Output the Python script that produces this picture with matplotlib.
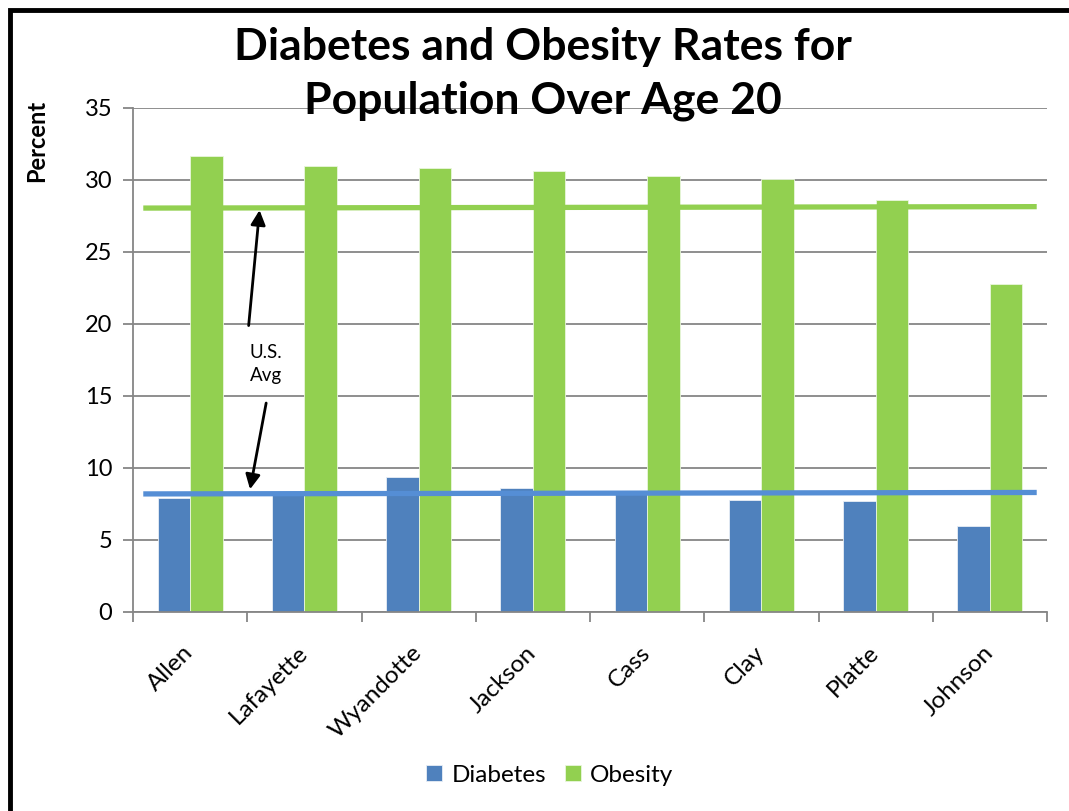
import matplotlib
matplotlib.use("Agg")
import matplotlib.pyplot as plt
import numpy as np
from matplotlib.patches import Rectangle

plt.rcParams['font.family'] = ['Lato', 'DejaVu Sans']

counties = ["Allen", "Lafayette", "Wyandotte", "Jackson", "Cass", "Clay", "Platte", "Johnson"]
diabetes = [7.9, 8.3, 9.4, 8.6, 8.3, 7.8, 7.7, 6.0]
obesity = [31.7, 31.0, 30.8, 30.6, 30.3, 30.1, 28.6, 22.8]
us_avg_obesity = [28.05, 28.15]
us_avg_diabetes = [8.2, 8.3]
yticks = [0, 5, 10, 15, 20, 25, 30, 35]

BLUE = "#4F81BD"
GREEN = "#92D050"
LINE_BLUE = "#558ED5"
GRID = "#868686"

fig = plt.figure(figsize=(10.69, 8.11), dpi=100)
ax = fig.add_axes([133/1069, 1-612/811, (1047-133)/1069, (612-108)/811])

x = np.arange(len(counties))
w = 0.285
ax.bar(x - w/2, diabetes, w, color=BLUE, edgecolor="#E8EEF6", linewidth=0.6, label="Diabetes", zorder=2)
ax.bar(x + w/2, obesity, w, color=GREEN, edgecolor="#E9F6DC", linewidth=0.6, label="Obesity", zorder=2)

lx = [-0.41, len(counties) - 0.59]
ax.plot(lx, us_avg_obesity, color=GREEN, lw=3.8, solid_capstyle="butt", zorder=3)
ax.plot(lx, us_avg_diabetes, color=LINE_BLUE, lw=3.8, solid_capstyle="butt", zorder=3)

ax.set_xlim(-0.5, len(counties) - 0.5)
ax.set_ylim(0, 35)
ax.set_yticks(yticks)
ax.yaxis.grid(True, color=GRID, lw=1.3, zorder=0)
ax.set_axisbelow(True)
ax.set_xticks(np.arange(len(counties) + 1) - 0.5, minor=False)
ax.set_xticklabels([])
ax.set_xticks(x, minor=True)
ax.set_xticklabels(counties, minor=True, rotation=45, ha="right", va="center",
                   rotation_mode="anchor", fontsize=17.5)
ax.tick_params(axis="x", which="minor", length=0, pad=27)
ax.tick_params(axis="x", which="major", length=7, color=GRID, width=1.3)
ax.tick_params(axis="y", length=7, color=GRID, width=1.3, labelsize=17, pad=8)
for s in ["top", "right"]:
    ax.spines[s].set_visible(False)
for s in ["left", "bottom"]:
    ax.spines[s].set_color(GRID)
    ax.spines[s].set_linewidth(1.3)

ax.set_ylabel("Percent", fontsize=17, fontweight="bold")
ax.yaxis.set_label_coords(-0.093, 0.934)

# annotation
ax.text(0.66, 17.2, "U.S.\nAvg", ha="center", va="center", fontsize=13.5, linespacing=1.45)
ax.annotate("", xy=(0.61, 28.1), xytext=(0.51, 19.7),
            arrowprops=dict(arrowstyle="-|>", color="black", lw=2, mutation_scale=22))
ax.annotate("", xy=(0.52, 8.33), xytext=(0.67, 14.7),
            arrowprops=dict(arrowstyle="-|>", color="black", lw=2, mutation_scale=22))

fig.text(543/1069, 1-74/811, "Diabetes and Obesity Rates for\nPopulation Over Age 20",
         ha="center", va="center", fontsize=32, fontweight="bold", linespacing=1.4)

fig.legend(handles=ax.containers, labels=["Diabetes", "Obesity"], loc="center",
           bbox_to_anchor=(550/1069, 1-775/811), ncol=2, frameon=False, fontsize=17.5,
           handlelength=0.65, handleheight=0.65, columnspacing=0.75, handletextpad=0.4)

fig.patches.append(Rectangle((10/1069, -0.1), 1.2, 1 - 10/811 + 0.1, transform=fig.transFigure,
                             fill=False, edgecolor="black", lw=3.5, zorder=10))

fig.savefig("out.png", dpi=100)
